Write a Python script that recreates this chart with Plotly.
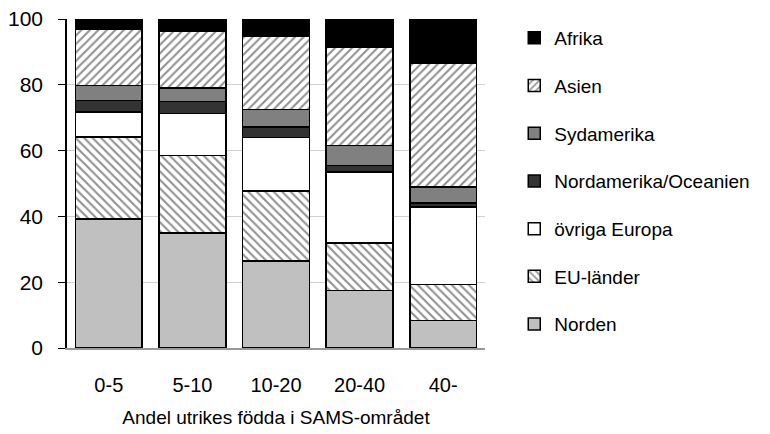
import plotly.graph_objects as go

kategorier = ["0-5", "5-10", "10-20", "20-40", "40-"]

norden = [39.2, 35.0, 26.5, 17.5, 8.4]
eu_lander = [24.9, 23.5, 21.2, 14.4, 10.9]
ovriga_europa = [7.6, 12.8, 16.3, 21.6, 23.5]
nordamerika = [3.6, 3.7, 3.1, 2.0, 1.3]
sydamerika = [4.5, 4.1, 5.4, 6.1, 4.8]
asien = [17.1, 17.3, 22.2, 29.9, 37.8]
afrika = [3.1, 3.6, 5.3, 8.5, 13.3]

FONT = "Liberation Sans, Arial, sans-serif"

serier = [
    ("Norden", norden, "#c0c0c0", ""),
    ("EU-länder", eu_lander, "white", "\\"),
    ("övriga Europa", ovriga_europa, "white", ""),
    ("Nordamerika/Oceanien", nordamerika, "#333333", ""),
    ("Sydamerika", sydamerika, "#808080", ""),
    ("Asien", asien, "white", "/"),
    ("Afrika", afrika, "black", ""),
]

fig = go.Figure()
for i, (namn, varden, farg, monster) in enumerate(serier):
    marker = dict(color=farg, line=dict(color="black", width=1.5))
    if monster:
        marker["pattern"] = dict(shape=monster, fgcolor="#222222", bgcolor="white",
                                 size=6, solidity=0.35)
    fig.add_trace(go.Bar(
        x=kategorier, y=varden, name=namn, marker=marker,
        legendgroup=namn, legendrank=len(serier) - i, width=0.8,
    ))

# sidan har 8px marginal runt diagrammet
fig.update_layout(
    barmode="stack",
    width=770, height=434,
    plot_bgcolor="white", paper_bgcolor="white",
    margin=dict(l=59, r=293, t=11, b=94, autoexpand=False),
    font=dict(family=FONT, size=18, color="black"),
    showlegend=True,
    legend=dict(
        traceorder="grouped", tracegroupgap=20,
        x=1.07, y=1.0, xanchor="left", yanchor="top",
        font=dict(size=19), itemwidth=30,
    ),
    bargap=0.2,
)
fig.update_yaxes(
    range=[0, 100], dtick=20, showgrid=True, gridcolor="#d0d0d0",
    showline=True, linecolor="black", linewidth=1.5,
    ticks="outside", ticklen=7, tickcolor="black",
    tickfont=dict(size=21), ticklabelstandoff=11, zeroline=False,
    ticklabeloverflow="allow",
)
fig.update_xaxes(
    showline=True, linecolor="#999999", linewidth=1.5,
    tickfont=dict(size=20), ticklabelstandoff=18,
    title=dict(text="Andel utrikes födda i SAMS-området", font=dict(size=19), standoff=16),
)

fig.write_html("out.html")
